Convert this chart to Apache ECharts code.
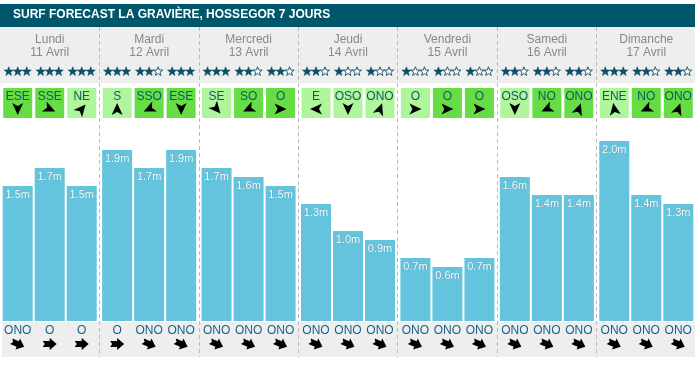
<!DOCTYPE html>
<html><head><meta charset="utf-8">
<script src="https://cdn.jsdelivr.net/npm/echarts@6/dist/echarts.min.js"></script>
<style>html,body{margin:0;padding:0;background:#fff}#c{width:698px;height:365px}</style>
</head><body><div id="c"></div>
<script>
const titleText = 'SURF FORECAST LA GRAVIÈRE, HOSSEGOR 7 JOURS';
const dayNames = ['Lundi','Mardi','Mercredi','Jeudi','Vendredi','Samedi','Dimanche'];
const dayDates = ['11 Avril','12 Avril','13 Avril','14 Avril','15 Avril','16 Avril','17 Avril'];
const waveSlot1 = [1.5,1.9,1.7,1.3,0.7,1.6,2.0];
const waveSlot2 = [1.7,1.7,1.6,1.0,0.6,1.4,1.4];
const waveSlot3 = [1.5,1.9,1.5,0.9,0.7,1.4,1.3];
const starsSlot1 = [3,3,3,2,1,2,3];
const starsSlot2 = [3,2,2,1,1,2,2];
const starsSlot3 = [3,3,2,1,1,2,2];
const windSlot1 = ['ESE','S','SE','E','O','OSO','ENE'];
const windSlot2 = ['SSE','SSO','SO','OSO','O','NO','NO'];
const windSlot3 = ['NE','ESE','O','ONO','O','ONO','ONO'];
const windOffshore1 = [1,0,0,0,0,0,0];
const windOffshore2 = [1,1,1,0,1,1,1];
const windOffshore3 = [0,1,1,0,1,1,1];
// heading of the wind arrow icon as drawn (degrees clockwise from up)
const windArrow1 = [180,0,140,270,90,180,350];
const windArrow2 = [115,245,245,180,90,245,245];
const windArrow3 = [40,180,90,20,90,20,20];
const swellSlot1 = ['ONO','O','ONO','ONO','ONO','ONO','ONO'];
const swellSlot2 = ['O','ONO','ONO','ONO','ONO','ONO','ONO'];
const swellSlot3 = ['O','ONO','ONO','ONO','ONO','ONO','ONO'];
const compass = {N:0,NNE:22.5,NE:45,ENE:67.5,E:90,ESE:112.5,SE:135,SSE:157.5,S:180,SSO:202.5,SO:225,OSO:247.5,O:270,ONO:292.5,NO:315,NNO:337.5};

const waves = [waveSlot1, waveSlot2, waveSlot3];
const stars = [starsSlot1, starsSlot2, starsSlot3];
const winds = [windSlot1, windSlot2, windSlot3];
const offs = [windOffshore1, windOffshore2, windOffshore3];
const warrows = [windArrow1, windArrow2, windArrow3];
const swells = [swellSlot1, swellSlot2, swellSlot3];

const FONT = '"Liberation Sans", Arial, sans-serif';
const BAR = '#64c4de';
const STAR = '#0c4f66';
const slotData = [];
for (let d = 0; d < 7; d++) for (let s = 0; s < 3; s++) slotData.push([d, s]);

const navArrow = [[0,-6],[5.5,6],[0,3],[-5.5,6]];
const fatArrow = [[-7,-3],[0,-3],[0,-6],[7,0],[0,6],[0,3],[-7,3],[-5,0]];
const starPts = [];
for (let k = 0; k < 10; k++) {
  const r = k % 2 ? 2.0 : 4.8;
  const a = -Math.PI / 2 + k * Math.PI / 5;
  starPts.push([r * Math.cos(a), r * Math.sin(a) + 0.6]);
}

function renderSlot(params, api) {
  const d = api.value(0), s = api.value(1);
  const c = api.coord([d, 0]);
  const x = c[0] + (s - 1) * 32;
  const n = stars[s][d];
  const swellHeading = (compass[swells[s][d]] + 180) % 360;
  const children = [];
  for (let k = 0; k < 3; k++) {
    children.push({ type: 'polygon', x: x + (k - 1) * 9, y: 71, shape: { points: starPts },
      style: k < n ? { fill: STAR, stroke: STAR, lineWidth: 0.6 } : { fill: '#fff', stroke: STAR, lineWidth: 0.9 } });
  }
  children.push(
    { type: 'rect', shape: { x: x - 14.5, y: 88, width: 29, height: 30 }, style: { fill: offs[s][d] ? '#66dd44' : '#aef59b' } },
    { type: 'text', x: x, y: 97, style: { text: winds[s][d], fill: '#0e5a6a', font: '12px ' + FONT, align: 'center', verticalAlign: 'middle' } },
    { type: 'polygon', x: x, y: 109, rotation: -warrows[s][d] * Math.PI / 180, shape: { points: navArrow }, style: { fill: '#000' } },
    { type: 'text', x: x, y: 331, style: { text: swells[s][d], fill: '#15638c', font: '12px ' + FONT, align: 'center', verticalAlign: 'middle' } },
    { type: 'polygon', x: x, y: 344, rotation: -(swellHeading - 90) * Math.PI / 180, shape: { points: fatArrow }, style: { fill: '#000' } }
  );
  return { type: 'group', children: children };
}

function barSeries(i) {
  return {
    type: 'bar', xAxisIndex: 0, yAxisIndex: 0, data: waves[i],
    barWidth: 30, barGap: '6.7%', itemStyle: { color: BAR }, z: 3,
    label: { show: true, position: 'insideTop', distance: 3, color: '#fff', fontSize: 11, fontFamily: FONT,
      textShadowColor: 'rgba(0,0,0,0.35)', textShadowBlur: 1,
      formatter: p => p.value.toFixed(1) + 'm' }
  };
}

const chart = echarts.init(document.getElementById('c'));
chart.setOption({
  animation: false,
  title: { text: titleText, left: 13, top: 9, padding: 0, textStyle: { color: '#fff', fontSize: 12, fontWeight: 'bold', fontFamily: FONT } },
  graphic: [
    { type: 'rect', z: -10, shape: { x: 0, y: 4, width: 695, height: 23 }, style: { fill: '#00566b' } },
    { type: 'rect', z: -10, shape: { x: 0, y: 27, width: 695, height: 56 }, style: { fill: '#eeeeee' } },
    { type: 'rect', z: -10, shape: { x: 2, y: 322, width: 693, height: 35 }, style: { fill: '#eeeeee' } }
  ],
  grid: [
    { left: -2, right: 2, top: 141, bottom: 44 },
    { left: -2, right: 2, top: 27, bottom: 8 }
  ],
  xAxis: [
    { type: 'category', gridIndex: 0, position: 'top', data: dayNames,
      axisLine: { show: false }, axisTick: { show: false }, splitLine: { show: false },
      axisLabel: { margin: 82, color: '#888', fontSize: 12, fontFamily: FONT, lineHeight: 13,
        formatter: (v, i) => v + '\n' + dayDates[i] } },
    { type: 'category', gridIndex: 1, data: dayNames, z: 5,
      axisLine: { show: false }, axisTick: { show: false }, axisLabel: { show: false },
      splitLine: { show: true, showMinLine: false, showMaxLine: false, lineStyle: { color: '#bbbbbb', type: [4, 3], width: 1 } } }
  ],
  yAxis: [
    { type: 'value', gridIndex: 0, min: 0, max: 2, show: false },
    { type: 'value', gridIndex: 1, show: false }
  ],
  series: [
    barSeries(0), barSeries(1), barSeries(2),
    { type: 'custom', xAxisIndex: 0, yAxisIndex: 0, data: slotData, renderItem: renderSlot, clip: false, z: 10 }
  ]
});
</script></body></html>
